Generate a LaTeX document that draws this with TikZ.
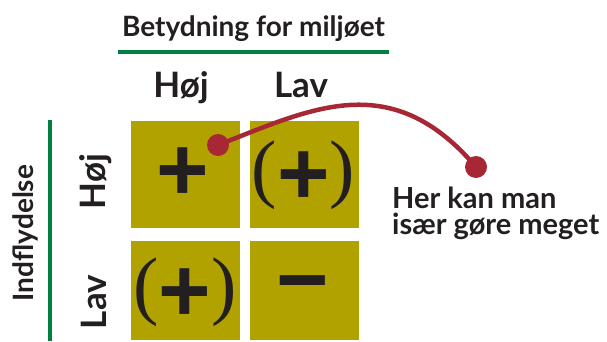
\documentclass[tikz,border=0pt]{standalone}
\usepackage{fontspec}
\setmainfont{Lato}
\newfontfamily\parenfont{Liberation Serif}
\newfontfamily\signfont{Liberation Sans}
\definecolor{cellolive}{RGB}{178,162,0}
\definecolor{markred}{RGB}{167,40,52}
\definecolor{rulegreen}{RGB}{0,128,64}
\definecolor{inkdark}{RGB}{35,31,32}
\newcommand{\heavyplus}{\raisebox{-11pt}{\signfont\bfseries\fontsize{90}{90}\selectfont+}}
\tikzset{
  lbl/.style={text=inkdark, inner sep=0pt, font=\bfseries\fontsize{#1}{#1}\selectfont},
  lbl/.default=28,
  cell/.style={fill=cellolive, draw=none, minimum width=109pt, inner sep=0pt},
  paren/.style={text=inkdark, inner sep=0pt, font=\parenfont\fontsize{76}{76}\selectfont},
  sign/.style={text=inkdark, inner sep=0pt, font=\signfont\bfseries\fontsize{90}{90}\selectfont},
  dot/.style={circle, fill=markred, minimum size=22pt, inner sep=0pt},
  greenrule/.style={draw=rulegreen, line width=4.5pt},
  pointer/.style={draw=markred, line width=4.5pt}
}
\begin{document}
\begin{tikzpicture}[x=1pt, y=-1pt]
\useasboundingbox (0,0) rectangle (607,342);

% column heading and its rule
\node[lbl, anchor=base] (title) at (253.5,37) {Betydning for miljøet};
\coordinate (trA) at (118,52);
\coordinate (trB) at (389,52);
\draw[greenrule] (trA) -- (trB);

% row heading and its rule
\node[lbl, rotate=90, anchor=base] (rowtitle) at (33,233) {Indflydelse};
\coordinate (lrA) at (50,120);
\coordinate (lrB) at (50,341);
\draw[greenrule] (lrA) -- (lrB);

% level labels
\node[lbl=35, anchor=base] (colhi) at (181,98) {Høj};
\node[lbl=35, anchor=base] (collo) at (301,98) {Lav};
\node[lbl=35, rotate=90, anchor=base] (rowhi) at (105,181.5) {Høj};
\node[lbl=35, rotate=90, anchor=base] (rowlo) at (106,302) {Lav};

% the four cells
\node[cell, minimum height=107pt] (hh) at (185.5,174.5) {};
\node[cell, minimum height=107pt] (hl) at (304.5,174.5) {};
\node[cell, minimum height=99pt]  (lh) at (185.5,290.5) {};
\node[cell, minimum height=99pt]  (ll) at (304.5,290.5) {};

% cell contents
\node[sign] (hhs) at (182.5,174.5) {+};
\node[paren] (hlp) at (303.5,175) {(\heavyplus)};
\node[paren] (lhp) at (185,292.5) {(\heavyplus)};
\node[sign] (lls) at (302.5,293) {−};

% pointer from the high/high cell to the remark
\node[dot] (d1) at (218,145) {};
\node[dot] (d2) at (476,167) {};
\draw[pointer] (d1.center) .. controls +(93,-36) and +(-85,-100) .. (d2.center);

\node[text=inkdark, inner sep=0pt, anchor=north west, align=left,
      font=\bfseries\fontsize{29}{26.5}\selectfont] (remark) at (392,186.5)
  {Her kan man\\især gøre meget};
\end{tikzpicture}
\end{document}
